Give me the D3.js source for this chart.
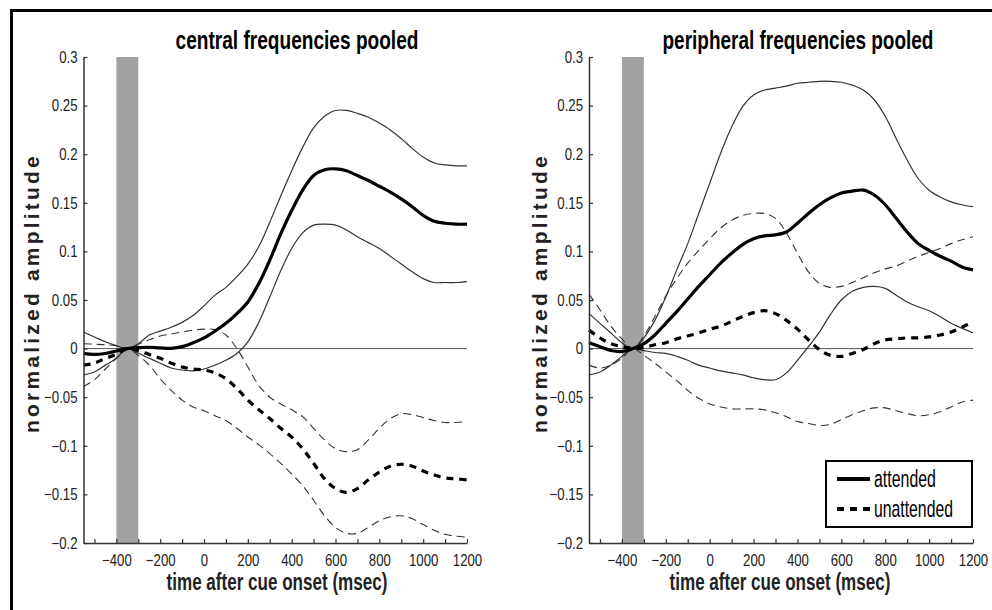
<!DOCTYPE html>
<html><head><meta charset="utf-8">
<script src="https://cdn.jsdelivr.net/npm/d3@7"></script>
<style>body{margin:0;background:#fff}svg{display:block}</style>
</head><body><svg id="c" width="992" height="610"></svg>
<script>
// ---- data ----
const times = [-550,-500,-450,-400,-350,-300,-250,-200,-150,-100,-50,0,50,100,150,200,250,300,350,400,450,500,550,600,650,700,750,800,850,900,950,1000,1050,1100,1150,1200];

// central frequencies pooled
const cAttMean = [-0.005,-0.006,-0.005,-0.0025,0,0.001,0.0014,0.0007,0.0003,0.002,0.006,0.011,0.018,0.026,0.036,0.048,0.067,0.091,0.118,0.142,0.163,0.178,0.184,0.185,0.183,0.178,0.173,0.167,0.161,0.154,0.146,0.137,0.131,0.129,0.128,0.128];
const cAttHi = [0.017,0.012,0.007,0.003,0,0.005,0.014,0.018,0.022,0.027,0.034,0.044,0.055,0.063,0.074,0.087,0.105,0.130,0.157,0.183,0.207,0.227,0.239,0.245,0.245,0.242,0.238,0.232,0.225,0.216,0.206,0.197,0.191,0.189,0.188,0.188];
const cAttLo = [-0.027,-0.024,-0.017,-0.010,0,-0.0045,-0.010,-0.015,-0.020,-0.022,-0.023,-0.021,-0.017,-0.012,-0.005,0.007,0.027,0.053,0.080,0.103,0.119,0.127,0.128,0.127,0.122,0.115,0.109,0.103,0.095,0.087,0.079,0.072,0.068,0.068,0.068,0.069];
const cUnMean = [-0.017,-0.015,-0.010,-0.006,0,-0.002,-0.006,-0.010,-0.015,-0.019,-0.021,-0.022,-0.025,-0.031,-0.041,-0.053,-0.063,-0.072,-0.082,-0.091,-0.103,-0.118,-0.134,-0.144,-0.148,-0.144,-0.135,-0.127,-0.121,-0.119,-0.121,-0.126,-0.130,-0.133,-0.134,-0.135];
const cUnHi = [0.005,0.0045,0.004,0.003,0,0.0045,0.009,0.013,0.015,0.017,0.019,0.020,0.0195,0.014,0,-0.019,-0.038,-0.050,-0.057,-0.063,-0.070,-0.082,-0.094,-0.103,-0.106,-0.104,-0.094,-0.082,-0.072,-0.067,-0.068,-0.071,-0.074,-0.076,-0.076,-0.075];
const cUnLo = [-0.039,-0.032,-0.021,-0.010,0,-0.007,-0.017,-0.031,-0.043,-0.053,-0.060,-0.064,-0.069,-0.074,-0.082,-0.091,-0.099,-0.108,-0.118,-0.129,-0.141,-0.156,-0.172,-0.184,-0.190,-0.190,-0.184,-0.177,-0.173,-0.172,-0.175,-0.181,-0.187,-0.191,-0.193,-0.194];

// peripheral frequencies pooled
const pAttMean = [0.006,0.002,-0.002,-0.003,0,0.005,0.014,0.026,0.038,0.051,0.064,0.076,0.088,0.098,0.107,0.113,0.116,0.117,0.120,0.129,0.139,0.148,0.155,0.160,0.162,0.163,0.158,0.148,0.134,0.120,0.108,0.101,0.095,0.090,0.084,0.081];
const pAttHi = [0.036,0.026,0.016,0.006,0,0.011,0.029,0.053,0.081,0.108,0.139,0.170,0.201,0.228,0.249,0.261,0.266,0.268,0.270,0.273,0.274,0.275,0.275,0.274,0.271,0.266,0.256,0.239,0.216,0.194,0.175,0.163,0.156,0.151,0.148,0.146];
const pAttLo = [-0.027,-0.024,-0.017,-0.008,0,-0.002,-0.004,-0.005,-0.008,-0.012,-0.017,-0.020,-0.023,-0.025,-0.027,-0.030,-0.032,-0.032,-0.025,-0.012,0.002,0.017,0.035,0.050,0.059,0.063,0.064,0.062,0.055,0.048,0.043,0.039,0.033,0.026,0.021,0.016];
const pUnMean = [0.019,0.011,0.005,0.002,0,0.001,0.004,0.006,0.010,0.013,0.016,0.020,0.023,0.028,0.033,0.037,0.039,0.036,0.029,0.020,0.009,-0.001,-0.007,-0.008,-0.005,-0.001,0.005,0.009,0.010,0.011,0.011,0.012,0.014,0.017,0.022,0.028];
const pUnHi = [0.056,0.040,0.023,0.010,0,0.013,0.033,0.054,0.072,0.088,0.101,0.113,0.124,0.132,0.137,0.139,0.139,0.134,0.119,0.098,0.079,0.067,0.063,0.064,0.068,0.073,0.078,0.082,0.085,0.090,0.095,0.099,0.103,0.108,0.112,0.115];
const pUnLo = [-0.017,-0.020,-0.017,-0.010,0,-0.007,-0.015,-0.024,-0.033,-0.043,-0.051,-0.057,-0.060,-0.062,-0.062,-0.062,-0.063,-0.066,-0.070,-0.075,-0.077,-0.079,-0.078,-0.073,-0.068,-0.064,-0.061,-0.061,-0.064,-0.067,-0.069,-0.068,-0.065,-0.060,-0.055,-0.053];

const cueWindow = [-400, -300];
const yTicks = [0.3,0.25,0.2,0.15,0.1,0.05,0,-0.05,-0.1,-0.15,-0.2];
const yTickLabels = ["0.3","0.25","0.2","0.15","0.1","0.05","0","\u22120.05","\u22120.1","\u22120.15","\u22120.2"];
const xTicks = [-500,-400,-300,-200,-100,0,100,200,300,400,500,600,700,800,900,1000,1100,1200];
const xLabeled = [-400,-200,0,200,400,600,800,1000,1200];
const xLabelText = ["\u2212400","\u2212200","0","200","400","600","800","1000","1200"];
const titles = ["central frequencies pooled","peripheral frequencies pooled"];
const xTitle = "time after cue onset (msec)";
const yTitle = "normalized amplitude";
const legendLabels = ["attended","unattended"];

// ---- drawing ----
const svg = d3.select("#c");
const NARROW = "'Liberation Sans Narrow','Arial Narrow','Liberation Sans',Arial,sans-serif";
const WIDE = "'Liberation Sans',Arial,sans-serif";
const SX = 0.8; // horizontal condensing for tick labels

// condensed text: scale horizontally so it spans `target` px
function fitText(parent, str, x, y, target, anchor, size, weight, fill) {
  const t = parent.append("text").attr("y", y).attr("text-anchor", anchor)
    .attr("font-family", NARROW).attr("font-size", size).attr("font-weight", weight)
    .attr("fill", fill).text(str);
  const w = t.node().getComputedTextLength();
  const sx = Math.min(1, target / w);
  t.attr("x", x / sx).attr("transform", `scale(${sx},1)`);
  return t;
}

// outer frame (top & left)
svg.append("line").attr("x1",11).attr("x2",992).attr("y1",10.5).attr("y2",10.5).attr("stroke","#000").attr("stroke-width",3);
svg.append("line").attr("x1",11.5).attr("x2",11.5).attr("y1",9).attr("y2",610).attr("stroke","#000").attr("stroke-width",3);

const panels = [
  {x0:83.5, x1:467, title:titles[0], tcx:297, tlen:243, xlcx:277, ylx:37,
   series:{attMean:cAttMean, attHi:cAttHi, attLo:cAttLo, unMean:cUnMean, unHi:cUnHi, unLo:cUnLo}},
  {x0:589, x1:973, title:titles[1], tcx:798, tlen:271, xlcx:780, ylx:545,
   series:{attMean:pAttMean, attHi:pAttHi, attLo:pAttLo, unMean:pUnMean, unHi:pUnHi, unLo:pUnLo}}
];
const yTop = 57, yBot = 543;

panels.forEach((p, pi) => {
  const x = d3.scaleLinear().domain([-550, 1200]).range([p.x0, p.x1]);
  const y = d3.scaleLinear().domain([-0.2, 0.3]).range([yBot, yTop]);
  const g = svg.append("g");

  // cue bar
  g.append("rect").attr("x", x(cueWindow[0])).attr("y", yTop)
    .attr("width", x(cueWindow[1]) - x(cueWindow[0])).attr("height", yBot - yTop)
    .attr("fill", "#a2a2a2");

  // zero line
  g.append("line").attr("x1", x(-550)).attr("x2", x(1200)).attr("y1", y(0)).attr("y2", y(0))
    .attr("stroke", "#555").attr("stroke-width", 1);

  const line = d3.line().x((d,i)=>x(times[i])).y(d=>y(d)).curve(d3.curveCatmullRom.alpha(0.5));
  const s = p.series;
  const draw = (arr, w, col, dash) => {
    const path = g.append("path").attr("d", line(arr)).attr("fill","none")
      .attr("stroke", col).attr("stroke-width", w).attr("stroke-linejoin","round");
    if (dash) path.attr("stroke-dasharray", dash);
  };
  draw(s.unHi, 1.1, "#333", "8,5");
  draw(s.unLo, 1.1, "#333", "8,5");
  draw(s.attHi, 1.2, "#333", null);
  draw(s.attLo, 1.2, "#333", null);
  draw(s.unMean, 3.2, "#000", "7,6");
  draw(s.attMean, 3.2, "#000", null);

  // axes
  const ax = g.append("g").attr("transform", `translate(${p.x0},0)`)
    .call(d3.axisLeft(y).tickValues(yTicks).tickFormat((d,i)=>yTickLabels[i]).tickSizeInner(-4).tickSizeOuter(0).tickPadding(6));
  const bx = g.append("g").attr("transform", `translate(0,${yBot})`)
    .call(d3.axisBottom(x).tickValues(xTicks)
      .tickFormat(d => { const k = xLabeled.indexOf(d); return k >= 0 ? xLabelText[k] : ""; })
      .tickSizeInner(-4).tickSizeOuter(0).tickPadding(11));
  [ax, bx].forEach(a => {
    a.select(".domain").attr("stroke", "#333").attr("stroke-width", 1.5);
    a.selectAll(".tick line").attr("stroke", "#333").attr("stroke-width", 1.2);
    a.selectAll("text").attr("font-family", NARROW).attr("font-size", 16.5).attr("fill", "#222")
      .each(function(){
        const t = d3.select(this);
        const tx = +(t.attr("x") || 0);
        t.attr("x", tx / SX).attr("transform", `scale(${SX},1)`);
      });
  });

  // title
  fitText(svg, p.title, p.tcx, 49, p.tlen, "middle", 25, "bold", "#000");
  // x title
  fitText(svg, xTitle, p.xlcx, 590, 221, "middle", 24, "bold", "#222");
  // y title
  svg.append("text").attr("transform", `translate(${p.ylx + 1.6},293) rotate(-90)`).attr("text-anchor","middle")
    .attr("font-family", WIDE).attr("font-weight","bold").attr("font-size", 21).attr("fill","#222")
    .attr("letter-spacing", 3.2)
    .text(yTitle);
});

// legend
const lg = svg.append("g");
lg.append("rect").attr("x", 826).attr("y", 461).attr("width", 146).attr("height", 66)
  .attr("fill", "#fff").attr("stroke", "#000").attr("stroke-width", 2);
const legLens = [62, 79];
[{dash:null, y:479}, {dash:"7,6", y:509}].forEach((d,i) => {
  const l = lg.append("line").attr("x1", 837).attr("x2", 870).attr("y1", d.y).attr("y2", d.y)
    .attr("stroke", "#000").attr("stroke-width", 4);
  if (d.dash) l.attr("stroke-dasharray", d.dash);
  fitText(lg, legendLabels[i], 874, d.y + 8, legLens[i], "start", 23, "normal", "#000");
});
</script>
</body></html>
